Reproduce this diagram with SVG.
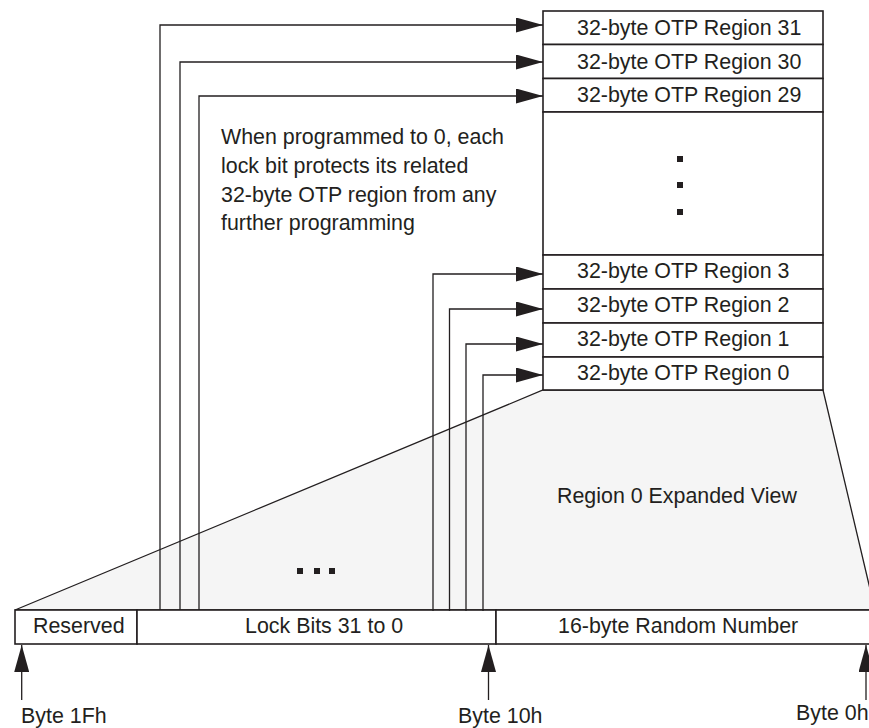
<svg xmlns="http://www.w3.org/2000/svg" width="869" height="728" viewBox="0 0 869 728">
<defs>
<style>
.box{fill:#ffffff;stroke:#231f20;stroke-width:1.6}
.t{font-family:"Liberation Sans",Arial,Helvetica,sans-serif;font-size:21.4px;fill:#231f20}
.c{fill:none;stroke:#231f20;stroke-width:1.3}
.dot{fill:#231f20}
</style>
<marker id="ah" viewBox="0 0 27 15" refX="27" refY="7.5" markerWidth="27" markerHeight="15" markerUnits="userSpaceOnUse" orient="auto">
<path d="M0,0 L27,7.5 L0,15 z" fill="#231f20"/>
</marker>
</defs>
<rect width="869" height="728" fill="#ffffff"/>

<g id="expanded-view">
<polygon points="15,610 543,390 823,390 875,610" fill="#f5f5f5" stroke="#231f20" stroke-width="1.3"/>
<text class="t" x="557" y="503">Region 0 Expanded View</text>
<rect class="dot" x="297" y="568" width="6" height="6"/>
<rect class="dot" x="314" y="568" width="6" height="6"/>
<rect class="dot" x="329" y="568" width="6" height="6"/>
</g>

<g id="region31"><rect class="box" x="543" y="11" width="280" height="33.5"/><text class="t" x="577" y="35">32-byte OTP Region 31</text></g>
<g id="region30"><rect class="box" x="543" y="44.5" width="280" height="34"/><text class="t" x="577" y="69">32-byte OTP Region 30</text></g>
<g id="region29"><rect class="box" x="543" y="78.5" width="280" height="33.5"/><text class="t" x="577" y="102">32-byte OTP Region 29</text></g>
<g id="regions-gap"><rect class="box" x="543" y="112" width="280" height="143"/>
<rect class="dot" x="677" y="156" width="6" height="6"/>
<rect class="dot" x="677" y="182" width="6" height="6"/>
<rect class="dot" x="677" y="209" width="6" height="6"/>
</g>
<g id="region3"><rect class="box" x="543" y="255" width="280" height="34"/><text class="t" x="577" y="278">32-byte OTP Region 3</text></g>
<g id="region2"><rect class="box" x="543" y="289" width="280" height="34"/><text class="t" x="577" y="312">32-byte OTP Region 2</text></g>
<g id="region1"><rect class="box" x="543" y="323" width="280" height="34"/><text class="t" x="577" y="346">32-byte OTP Region 1</text></g>
<g id="region0"><rect class="box" x="543" y="357" width="280" height="33"/><text class="t" x="577" y="380">32-byte OTP Region 0</text></g>

<g id="note">
<text class="t" x="221" y="144">When programmed to 0, each</text>
<text class="t" x="221" y="173">lock bit protects its related</text>
<text class="t" x="221" y="202">32-byte OTP region from any</text>
<text class="t" x="221" y="230">further programming</text>
</g>

<g id="reserved"><rect class="box" x="15" y="610" width="122" height="34"/><text class="t" x="33" y="633">Reserved</text></g>
<g id="lockbits"><rect class="box" x="137" y="610" width="359" height="34"/><text class="t" x="245" y="633">Lock Bits 31 to 0</text></g>
<g id="random"><rect class="box" x="496" y="610" width="390" height="34"/><text class="t" x="558" y="633">16-byte Random Number</text></g>

<g id="byte1Fh"><text class="t" x="21" y="723">Byte 1Fh</text></g>
<g id="byte10h"><text class="t" x="458" y="723">Byte 10h</text></g>
<g id="byte0h"><text class="t" x="796" y="720">Byte 0h</text></g>

<g id="connectors">
<path class="c" d="M160,610 V25 H543" marker-end="url(#ah)"/>
<path class="c" d="M180,610 V62 H543" marker-end="url(#ah)"/>
<path class="c" d="M199,610 V96 H543" marker-end="url(#ah)"/>
<path class="c" d="M433,611 V274 H543" marker-end="url(#ah)"/>
<path class="c" d="M449.5,611 V309 H543" marker-end="url(#ah)"/>
<path class="c" d="M466,611 V344 H543" marker-end="url(#ah)"/>
<path class="c" d="M483,611 V375 H543" marker-end="url(#ah)"/>
<path class="c" d="M21.7,700 V645" marker-end="url(#ah)"/>
<path class="c" d="M488.5,700 V645" marker-end="url(#ah)"/>
<path class="c" d="M866,700 V645" marker-end="url(#ah)"/>
</g>
</svg>
